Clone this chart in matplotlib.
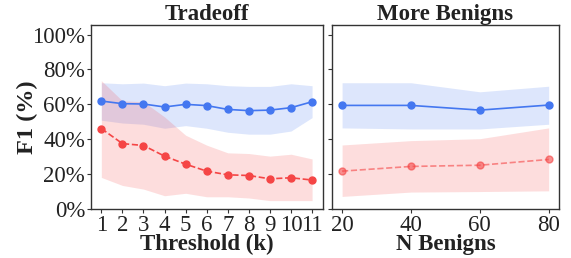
import numpy as np
import matplotlib
matplotlib.use("Agg")
import matplotlib.pyplot as plt
from matplotlib.ticker import FuncFormatter

# Tradeoff panel
k_values = [1, 2, 3, 4, 5, 6, 7, 8, 9, 10, 11]
blue_tr = [61.9, 60.4, 60.2, 58.5, 60.0, 59.3, 57.1, 56.4, 56.7, 58.1, 61.5]
blue_tr_hi = [72.4, 71.8, 72.2, 70.7, 72.2, 71.8, 70.7, 70.3, 70.3, 71.8, 70.7]
blue_tr_lo = [50.9, 49.3, 48.6, 46.3, 47.8, 46.3, 44.0, 42.9, 42.9, 44.7, 52.4]
red_tr = [46.1, 37.5, 36.4, 30.3, 25.7, 21.7, 19.6, 19.2, 17.3, 17.9, 16.6]
red_tr_hi = [73.6, 62.0, 61.5, 52.8, 42.3, 36.6, 32.2, 31.8, 30.3, 31.4, 28.7]
red_tr_lo = [18.1, 13.5, 11.4, 7.6, 9.0, 7.0, 7.0, 6.3, 4.8, 4.8, 4.8]

# More Benigns panel
n_benigns = [20, 40, 60, 80]
blue_nb = [59.4, 59.4, 56.7, 59.6]
blue_nb_hi = [72.4, 72.4, 67.2, 70.4]
blue_nb_lo = [46.5, 45.9, 45.9, 48.6]
red_nb = [21.7, 24.4, 25.1, 28.4]
red_nb_hi = [36.7, 39.2, 40.3, 46.5]
red_nb_lo = [7.2, 9.7, 10.0, 10.4]

plt.rcParams['font.family'] = ['Liberation Serif', 'DejaVu Serif']

BLUE = '#4477f0'
RED = '#f54545'

fig = plt.figure(figsize=(5.71, 2.58), dpi=100)
ax1 = fig.add_axes([0.159, 0.190, 0.406, 0.713])
ax2 = fig.add_axes([0.581, 0.190, 0.398, 0.713])


def draw(ax, x, b, bhi, blo, r, rhi, rlo, red_alpha):
    ax.fill_between(x, blo, bhi, color=BLUE, alpha=0.18, lw=0)
    ax.fill_between(x, rlo, rhi, color=RED, alpha=0.18, lw=0)
    ax.plot(x, b, '-', color=BLUE, marker='o', markersize=5, lw=1.2)
    ax.plot(x, r, '--', color=RED, marker='o', markersize=5, lw=1.2,
            alpha=red_alpha)
    ax.set_ylim(0, 105.5)
    ax.set_yticks([0, 20, 40, 60, 80, 100])
    for s in ax.spines.values():
        s.set_color('#333333')
        s.set_linewidth(1.0)
    ax.tick_params(axis='both', colors='#333333', labelcolor='#222222',
                   labelsize=16.5, length=3, width=0.8, pad=1)


draw(ax1, k_values, blue_tr, blue_tr_hi, blue_tr_lo,
     red_tr, red_tr_hi, red_tr_lo, 1.0)
draw(ax2, n_benigns, blue_nb, blue_nb_hi, blue_nb_lo,
     red_nb, red_nb_hi, red_nb_lo, 0.6)

ax1.set_xticks(k_values)
ax1.yaxis.set_major_formatter(FuncFormatter(lambda v, p: f'{v:.0f}%'))
ax2.set_xticks(n_benigns)
ax2.set_yticklabels([])

lab = dict(fontweight='bold', color='#222222')
ax1.set_title('Tradeoff', fontsize=16.5, pad=2, **lab)
ax2.set_title('More Benigns', fontsize=16.5, pad=2, **lab)
ax1.set_xlabel('Threshold (k)', fontsize=16.5, labelpad=-1, **lab)
ax2.set_xlabel('N Benigns', fontsize=16.5, labelpad=-1, **lab)
ax1.set_ylabel('F1 (%)', fontsize=17.5, labelpad=-4, **lab)

fig.savefig('out.png', dpi=100)
